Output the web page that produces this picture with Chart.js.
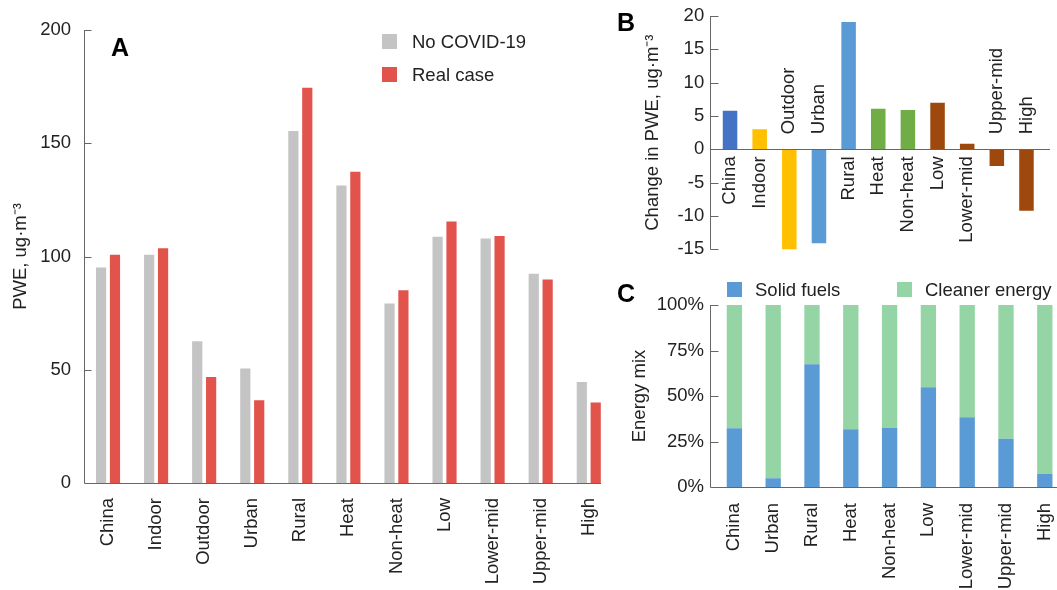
<!DOCTYPE html>
<html>
<head>
<meta charset="utf-8">
<script src="https://cdn.jsdelivr.net/npm/chart.js@4.4.1/dist/chart.umd.min.js"></script>
<style>
  body { margin: 0; width: 1057px; height: 590px; overflow: hidden; position: relative; background: #fff; }
  canvas { position: absolute; }
</style>
</head>
<body>
<canvas id="chartA" width="620" height="590" style="left:0;top:0"></canvas>
<canvas id="chartB" width="447" height="270" style="left:610px;top:0"></canvas>
<canvas id="chartC" width="470" height="320" style="left:610px;top:270px"></canvas>
<script>
const categoriesA = ["China", "Indoor", "Outdoor", "Urban", "Rural", "Heat", "Non-heat", "Low", "Lower-mid", "Upper-mid", "High"];
const noCovid = [95.1, 100.8, 62.6, 50.6, 155.4, 131.3, 79.2, 108.7, 107.9, 92.4, 44.6];
const realCase = [100.8, 103.6, 46.8, 36.5, 174.5, 137.4, 85.1, 115.5, 109.1, 89.9, 35.5];
const ticksA = [0, 50, 100, 150, 200];

const categoriesB = ["China", "Indoor", "Outdoor", "Urban", "Rural", "Heat", "Non-heat", "Low", "Lower-mid", "Upper-mid", "High"];
const changeB = [5.8, 3.0, -15.7, -14.1, 19.1, 6.1, 5.9, 7.0, 0.85, -2.5, -9.2];
const ticksB = [-15, -10, -5, 0, 5, 10, 15, 20];

const categoriesC = ["China", "Urban", "Rural", "Heat", "Non-heat", "Low", "Lower-mid", "Upper-mid", "High"];
const solidFuels = [32.3, 4.8, 67.4, 31.7, 32.6, 54.8, 38.3, 26.5, 7.1];
const cleanerEnergy = [67.7, 95.2, 32.6, 68.3, 67.4, 45.2, 61.7, 73.5, 92.9];
const ticksC = [0, 25, 50, 75, 100];

const colorsB = ["#4472c4", "#ffc000", "#ffc000", "#5b9bd5", "#5b9bd5", "#70ad47", "#70ad47", "#9e480e", "#9e480e", "#9e480e", "#9e480e"];

const FONT = '"Liberation Sans", Arial, sans-serif';
const TEXT = "#222";
const AXIS = "#666";

Chart.defaults.font.family = FONT;
Chart.defaults.font.size = 18.5;
Chart.defaults.color = TEXT;

const framePlugin = {
  id: "frame",
  afterDatasetsDraw(chart, args, opts) {
    const { ctx, chartArea, scales: { x, y } } = chart;
    const ax = Math.round(chartArea.left - opts.gap) + 0.5;
    const zy = Math.round(y.getPixelForValue(0)) + 0.5;
    ctx.save();
    ctx.strokeStyle = AXIS;
    ctx.lineWidth = 1;
    ctx.beginPath();
    ctx.moveTo(ax, chartArea.top);
    ctx.lineTo(ax, chartArea.bottom);
    y.ticks.forEach((tick) => {
      const ty = Math.round(y.getPixelForValue(tick.value)) + 0.5;
      ctx.moveTo(ax, ty);
      ctx.lineTo(ax + opts.tick, ty);
    });
    ctx.moveTo(ax, zy);
    ctx.lineTo(chartArea.right + opts.xExtra, zy);
    ctx.stroke();
    ctx.restore();
  }
};

const panelPlugin = {
  id: "panel",
  afterDraw(chart, args, opts) {
    const { ctx } = chart;
    ctx.save();
    ctx.font = `bold 25px ${FONT}`;
    ctx.fillStyle = "#000";
    ctx.textBaseline = "alphabetic";
    ctx.fillText(opts.text, opts.x, opts.y);
    ctx.restore();
  }
};

const boxLegendPlugin = {
  id: "boxLegend",
  afterDraw(chart, args, opts) {
    const { ctx } = chart;
    ctx.save();
    ctx.font = `18.5px ${FONT}`;
    ctx.textBaseline = "middle";
    chart.data.datasets.forEach((dataset, i) => {
      const [bx, by] = opts.positions[i];
      ctx.fillStyle = dataset.backgroundColor;
      ctx.fillRect(bx, by, opts.box, opts.box);
      ctx.fillStyle = TEXT;
      ctx.fillText(dataset.label, bx + opts.textDx, by + opts.box / 2 + 1);
    });
    ctx.restore();
  }
};

const zeroLabelPlugin = {
  id: "zeroLabels",
  afterDatasetsDraw(chart, args, opts) {
    const { ctx, scales: { x, y } } = chart;
    const zero = y.getPixelForValue(0);
    const values = chart.data.datasets[0].data;
    ctx.save();
    ctx.font = `18.5px ${FONT}`;
    ctx.fillStyle = TEXT;
    ctx.textBaseline = "middle";
    chart.data.labels.forEach((label, i) => {
      const positive = values[i] >= 0;
      ctx.save();
      ctx.translate(x.getPixelForValue(i), positive ? zero + opts.below : zero - opts.above);
      ctx.rotate(-Math.PI / 2);
      ctx.textAlign = positive ? "right" : "left";
      ctx.fillText(label, 0, 0);
      ctx.restore();
    });
    ctx.restore();
  }
};

// keep the chart area exactly where layout.padding puts it
function fixedWidth(width) {
  return (scale) => {
    scale.width = width;
    scale.paddingTop = 0;
    scale.paddingBottom = 0;
  };
}

function fixedHeight(height) {
  return (scale) => {
    scale.height = height;
    scale.paddingLeft = 0;
    scale.paddingRight = 0;
  };
}

function useTicks(values) {
  return (scale) => { scale.ticks = values.map((value) => ({ value })); };
}

function yTitle(text, padding) {
  return { display: true, text, padding: { top: padding, bottom: 0 }, font: { size: 18.5 } };
}

function baseOptions(padding) {
  return {
    responsive: false,
    devicePixelRatio: 1,
    animation: false,
    layout: { padding },
    plugins: { legend: { display: false }, tooltip: { enabled: false } }
  };
}

function rotatedX(padding, height) {
  return {
    grid: { display: false, drawTicks: false },
    border: { display: false },
    ticks: { autoSkip: false, minRotation: 90, maxRotation: 90, padding },
    afterFit: fixedHeight(height)
  };
}

function plainY(min, max, ticks, width, padding, title, callback) {
  return {
    min,
    max,
    grid: { display: false, drawTicks: false },
    border: { display: false },
    ticks: { padding, callback: callback || ((v) => v) },
    title,
    afterBuildTicks: useTicks(ticks),
    afterFit: fixedWidth(width)
  };
}

const optionsA = baseOptions({ left: 0, top: 30, right: 7.2, bottom: 0 });
optionsA.scales = {
  x: rotatedX(15, 107),
  y: plainY(0, 200, ticksA, 84, 13, yTitle("PWE, ug·m⁻³", 10))
};
optionsA.plugins.frame = { gap: 0.5, tick: 7, xExtra: -11.8 };
optionsA.plugins.panel = { text: "A", x: 111, y: 56 };
optionsA.plugins.boxLegend = { positions: [[382, 34], [382, 67]], box: 15, textDx: 30 };

new Chart(document.getElementById("chartA"), {
  type: "bar",
  data: {
    labels: categoriesA,
    datasets: [
      { label: "No COVID-19", data: noCovid, backgroundColor: "#c4c4c4", barPercentage: 0.734, categoryPercentage: 0.578 },
      { label: "Real case", data: realCase, backgroundColor: "#e2534c", barPercentage: 0.734, categoryPercentage: 0.578 }
    ]
  },
  options: optionsA,
  plugins: [framePlugin, panelPlugin, boxLegendPlugin]
});

const optionsB = baseOptions({ left: 0, top: 16, right: 15.7, bottom: 20.7 });
optionsB.scales = {
  x: { display: false },
  y: plainY(-15, 20, ticksB, 105.2, 11, yTitle("Change in PWE, ug·m⁻³", 32))
};
optionsB.plugins.frame = { gap: 5, tick: 8, xExtra: 8.7 };
optionsB.plugins.panel = { text: "B", x: 7, y: 31 };
optionsB.plugins.zeroLabels = { below: 7, above: 15 };

new Chart(document.getElementById("chartB"), {
  type: "bar",
  data: {
    labels: categoriesB,
    datasets: [
      { label: "Change in PWE", data: changeB, backgroundColor: colorsB, barPercentage: 0.49, categoryPercentage: 1 }
    ]
  },
  options: optionsB,
  plugins: [framePlugin, panelPlugin, zeroLabelPlugin]
});

const optionsC = baseOptions({ left: 0, top: 35, right: 15.8, bottom: 0 });
optionsC.scales = {
  x: Object.assign(rotatedX(16, 103), { stacked: true }),
  y: Object.assign(plainY(0, 100, ticksC, 105, 11, yTitle("Energy mix", 19), (v) => `${v}%`), { stacked: true })
};
optionsC.plugins.frame = { gap: 5, tick: 8, xExtra: 10 };
optionsC.plugins.panel = { text: "C", x: 7, y: 32 };
optionsC.plugins.boxLegend = { positions: [[117, 12], [287, 12]], box: 15, textDx: 28 };

new Chart(document.getElementById("chartC"), {
  type: "bar",
  data: {
    labels: categoriesC,
    datasets: [
      { label: "Solid fuels", data: solidFuels, backgroundColor: "#5b9bd5", barPercentage: 0.395, categoryPercentage: 1 },
      { label: "Cleaner energy", data: cleanerEnergy, backgroundColor: "#95d5a5", barPercentage: 0.395, categoryPercentage: 1 }
    ]
  },
  options: optionsC,
  plugins: [framePlugin, panelPlugin, boxLegendPlugin]
});
</script>
</body>
</html>
